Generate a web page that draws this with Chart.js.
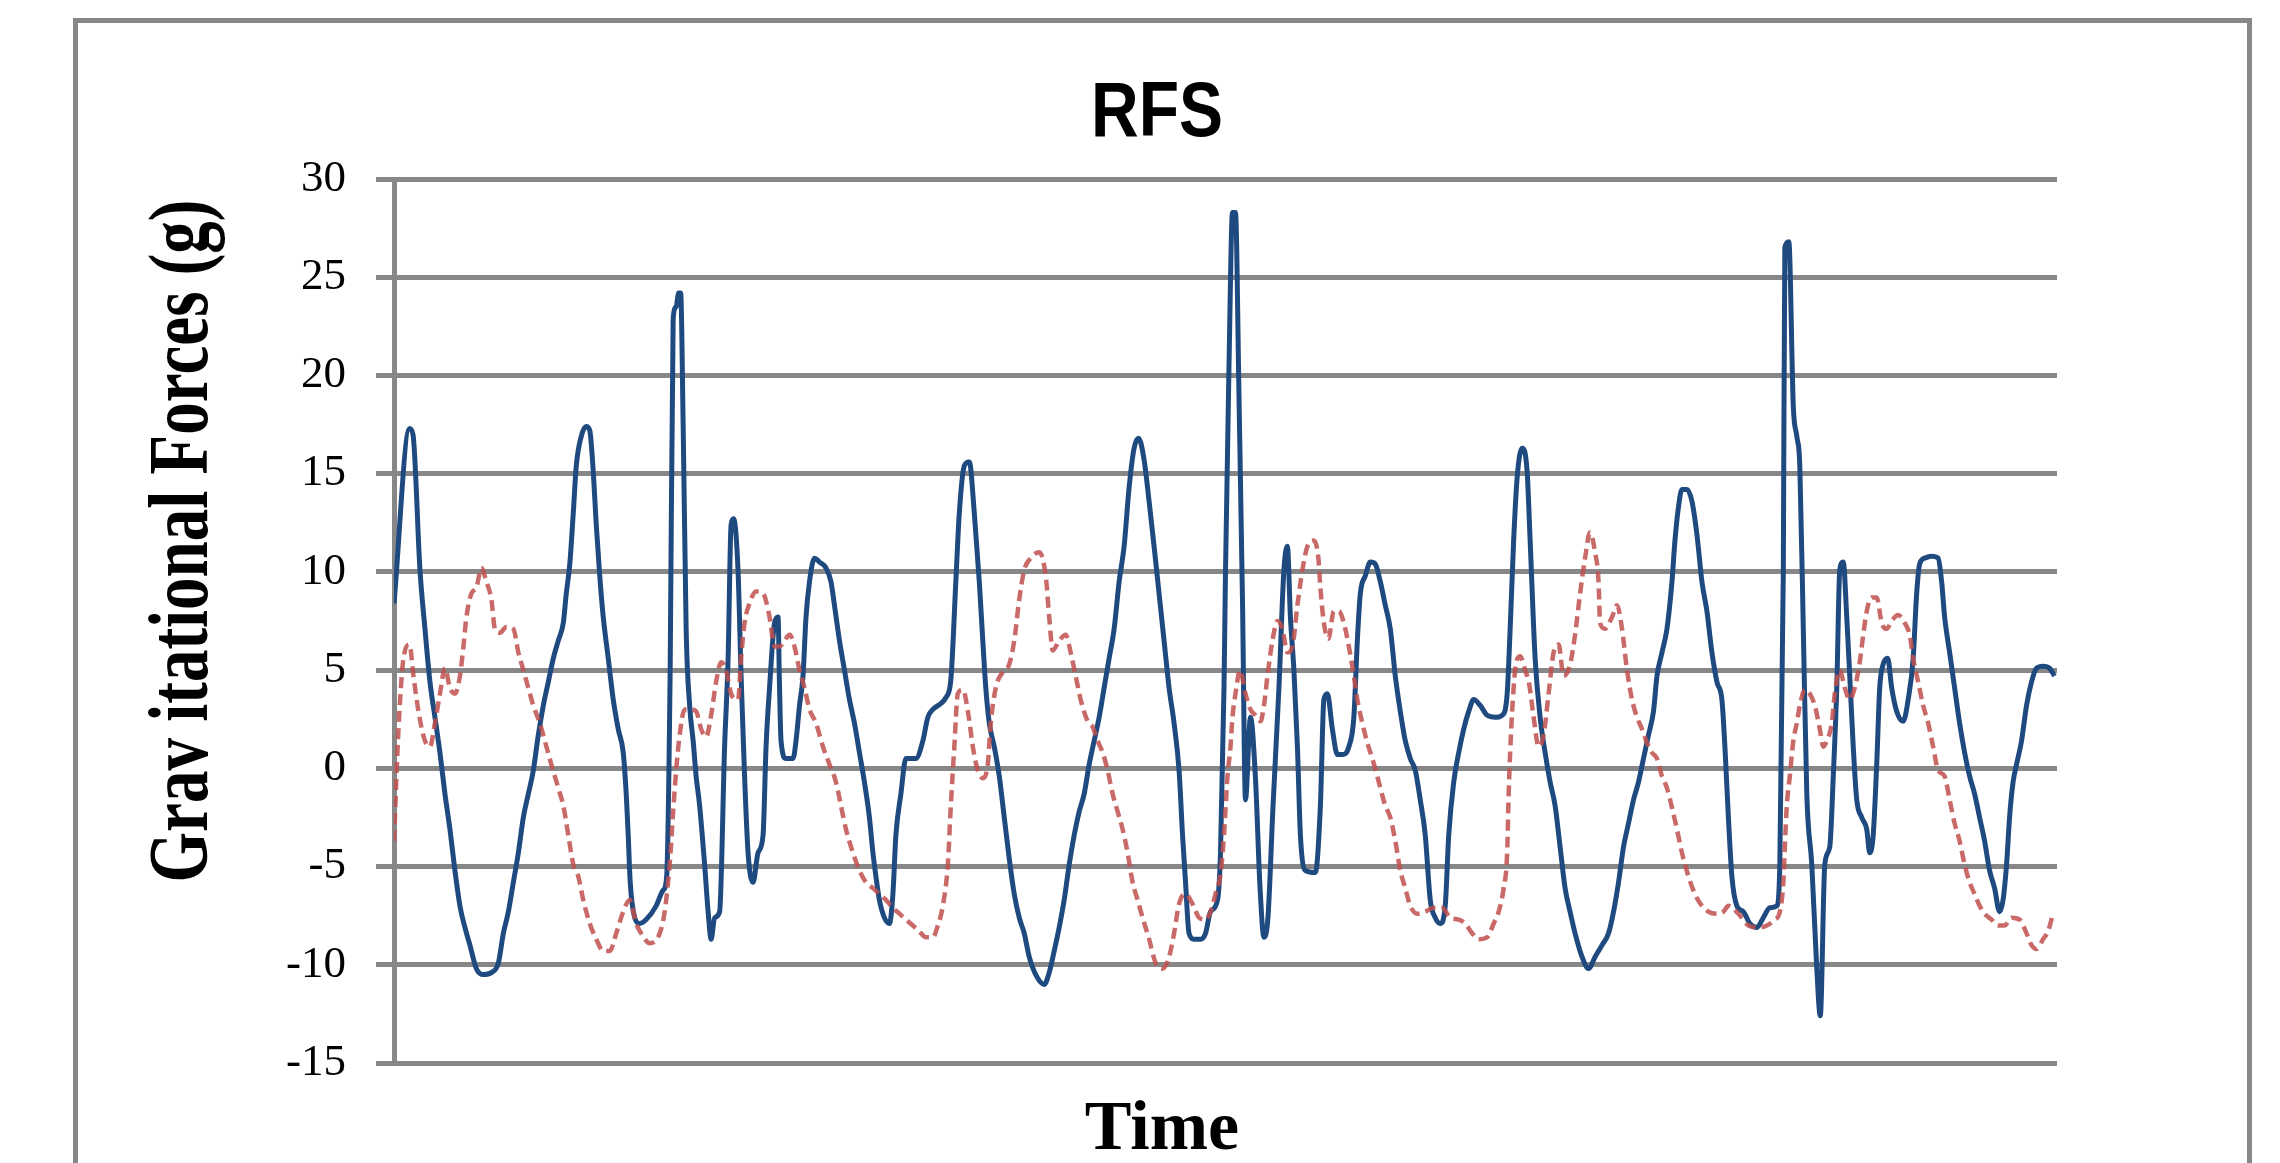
<!DOCTYPE html>
<html>
<head>
<meta charset="utf-8">
<title>RFS</title>
<script src="https://cdn.jsdelivr.net/npm/chart.js@4.4.1/dist/chart.umd.min.js"></script>
<style>
  html, body { margin:0; padding:0; background:#fff; overflow:hidden; }
  #frame {
    position:absolute; left:73px; top:18px; width:2179px; height:1300px;
    border:5px solid #888; box-sizing:border-box;
  }
  #rfsChart { position:absolute; left:0; top:0; }
</style>
</head>
<body>
<div id="frame"></div>
<canvas id="rfsChart" width="2280" height="1163"></canvas>
<script>
/* ── Chart texts ─────────────────────────────── */
const chartTitle = 'RFS';
const xTitle = 'Time';
const yTitle = 'Grav itational Forces (g)';

/* ── Y axis ──────────────────────────────────── */
const yMin = -15, yMax = 30, yStep = 5;
const tMin = 0, tMax = 333;

/* ── Series 1 (solid blue): time samples / g ─── */
const blueT = [0,3.1,3.8,5.2,6.2,7.2,8.2,9.2,10.2,11.2,12.2,13.2,14.2,15.2,16.5,17.9,19.5,20.9,21.9,22.9,
  23.9,24.9,25.9,26.9,27.9,28.9,29.9,30.9,31.9,32.9,33.9,34.5,35.2,35.9,36.5,37.5,38.5,39.2,39.9,40.5,
  41.2,41.9,42.9,43.9,44.9,45.9,46.5,46.9,47.3,48.2,49.2,50.5,52.5,53.9,54.6,55.3,55.9,56.5,57.0,57.4,
  57.9,58.5,59.2,59.9,60.5,61.2,62.2,62.9,63.5,64.2,65.2,66.2,66.9,67.5,68.0,68.9,69.5,70.2,70.9,71.9,
  72.9,73.9,74.5,75.2,76.2,76.9,77.2,77.5,78.5,79.9,80.5,81.2,81.9,82.5,83.2,84.2,85.2,86.5,87.5,88.2,
  89.2,90.2,91.2,92.2,93.2,94.2,95.2,95.9,96.5,97.2,98.2,99.2,99.9,100.5,101.5,102.5,104.5,105.9,106.9,107.9,
  109.5,110.5,111.5,112.5,113.2,114.2,115.2,116.2,117.2,117.9,118.5,119.2,120.2,121.2,122.2,123.2,124.2,125.2,126.2,127.2,
  128.5,130.2,131.2,132.2,133.2,134.2,135.2,136.2,137.2,138.2,139.2,140.2,141.2,142.2,143.2,144.2,145.2,146.2,147.2,148.2,
  149.1,150.2,151.2,152.2,153.2,154.2,155.2,156.2,157.2,157.9,158.5,159.2,160.2,161.5,162.5,163.5,164.9,165.5,166.2,166.5,
  167.2,167.9,168.5,169.2,169.9,170.5,171.5,172.5,173.4,174.2,175.0,176.0,177.2,178.2,178.9,179.5,180.2,180.9,181.5,182.5,
  184.5,185.5,186.2,186.9,187.9,188.9,189.9,191.2,192.2,192.9,193.5,194.5,195.5,196.5,197.5,198.5,199.5,200.5,201.5,202.5,
  203.5,204.5,205.5,206.5,207.5,208.5,209.5,210.5,211.2,212.2,213.2,214.2,215.2,216.2,217.5,218.9,220.5,221.9,222.9,223.5,
  224.2,224.9,225.9,226.9,227.5,228.5,229.5,230.5,231.5,232.5,233.5,234.5,235.5,236.5,237.9,239.2,240.5,241.9,243.2,244.2,
  245.2,246.2,247.2,248.2,249.2,250.2,251.2,252.2,252.9,253.9,254.9,255.9,256.5,257.2,257.9,258.9,259.9,260.9,261.9,262.9,
  263.9,264.9,265.9,266.5,267.2,267.9,268.9,270.2,271.5,272.9,274.2,275.5,276.9,277.5,278.2,278.5,279.3,280.2,280.9,281.5,
  282.2,282.9,283.9,284.9,285.6,286.5,287.5,288.2,288.9,289.5,290.2,290.9,291.5,292.2,292.9,293.9,294.9,295.5,296.2,296.9,
  297.5,298.2,299.1,299.9,300.9,302.2,303.2,304.2,304.9,305.5,306.5,307.9,309.2,309.9,310.5,311.5,312.5,313.5,314.5,315.5,
  316.5,317.5,318.5,319.5,320.5,321.5,322.2,322.9,323.5,324.2,324.9,325.9,326.9,327.9,328.9,330.2,331.5,332.5];
const blueG = [8.4,17.3,17.0,10.1,7.1,4.4,2.6,0.8,-1.3,-3.1,-5.2,-7.0,-8.1,-9.0,-10.2,-10.5,-10.4,-9.9,-8.4,-7.3,
  -5.8,-4.3,-2.5,-1.3,-0.1,1.7,3.2,4.4,5.6,6.5,7.4,8.9,10.4,13.0,15.4,16.9,17.4,17.2,15.1,12.4,
  9.8,7.7,5.6,3.5,2.0,0.8,-1.3,-3.4,-5.8,-7.6,-7.9,-7.7,-7.0,-6.2,-5.5,5.0,22.9,23.5,24.2,24.2,
  17.5,7.1,3.2,1.4,-0.4,-1.9,-4.9,-7.3,-8.7,-7.6,-7.3,1.1,5.6,12.4,12.7,10.0,4.7,-0.4,-4.3,-5.8,
  -4.3,-3.4,1.1,4.1,7.4,7.7,4.1,1.4,0.5,0.5,1.4,3.2,4.7,7.7,9.5,10.7,10.5,10.2,9.5,8.3,
  6.5,5.0,3.5,2.3,0.8,-0.7,-2.5,-4.3,-5.5,-6.7,-7.6,-7.9,-6.4,-3.4,-1.3,0.5,0.5,1.4,2.6,3.0,
  3.3,3.6,4.5,9.5,13.0,15.4,15.6,13.0,9.5,6.5,4.1,2.3,1.1,-0.4,-2.5,-4.6,-6.4,-7.6,-8.4,-9.6,
  -10.5,-11.0,-10.4,-9.3,-8.1,-6.7,-4.9,-3.4,-2.2,-1.3,0.2,1.4,2.6,4.1,5.6,7.1,9.5,11.3,14.3,16.3,
  16.8,15.7,13.6,11.3,8.9,6.5,4.1,2.3,-0.1,-3.4,-5.8,-8.4,-8.7,-8.7,-8.4,-7.3,-6.7,-4.3,4.1,10.0,
  20.5,28.3,28.3,19.0,8.6,-1.6,2.6,-0.5,-6.0,-8.6,-7.6,-2.0,4.1,10.1,11.3,7.7,5.0,1.1,-3.4,-5.2,
  -5.3,-1.9,3.5,3.8,2.0,0.7,0.7,1.1,2.6,6.5,8.9,9.8,10.5,10.4,9.5,8.3,7.1,4.7,2.9,1.4,
  0.5,-0.1,-1.6,-3.4,-6.7,-7.6,-7.9,-7.0,-3.4,-0.7,0.8,2.0,2.9,3.5,3.2,2.7,2.6,2.7,3.8,7.1,
  11.6,14.8,16.3,15.1,11.6,5.6,2.6,0.8,-0.7,-1.9,-4.0,-6.1,-7.3,-8.4,-9.6,-10.2,-9.6,-9.0,-8.4,-7.3,
  -5.8,-4.0,-2.8,-1.6,-0.7,0.5,1.7,2.9,4.7,5.9,7.1,9.5,11.6,13.3,14.2,14.2,13.6,11.9,9.5,8.0,
  5.9,4.4,3.5,1.1,-2.5,-5.5,-7.0,-7.3,-7.9,-8.1,-7.6,-7.1,-7.0,-4.9,10.1,26.5,26.8,18.4,16.9,15.4,
  7.1,-1.3,-4.9,-10.2,-12.6,-4.9,-4.0,-0.4,4.1,10.1,10.5,7.7,4.7,1.1,-1.6,-2.5,-3.1,-4.3,-3.4,0.2,
  4.1,5.3,5.6,4.1,2.9,2.4,3.5,5.6,8.9,10.4,10.7,10.8,10.7,9.5,7.7,5.9,4.1,2.3,0.8,-0.4,
  -1.3,-2.5,-3.7,-5.2,-6.1,-7.3,-6.7,-4.9,-2.5,-0.7,0.2,1.4,3.2,4.4,5.1,5.2,5.1,4.7];

/* ── Series 2 (dashed red): time samples / g ─── */
const redT = [0,0.9,1.9,3.1,3.9,4.9,6.2,7.2,8.2,9.2,10.2,11.2,12.2,13.2,13.9,14.5,15.5,16.5,17.5,18.5,
  19.5,20.2,21.2,22.5,23.9,24.9,25.9,26.9,27.9,29.2,30.2,31.5,32.9,33.9,34.9,35.9,36.9,37.9,39.2,40.5,
  41.9,43.2,44.5,45.9,47.2,48.5,49.5,51.2,53.2,54.2,55.2,55.9,56.5,57.2,58.2,59.2,60.5,61.5,62.5,63.5,
  64.5,65.5,66.5,67.5,68.9,69.5,70.2,71.2,72.5,73.9,75.2,76.2,77.2,78.2,79.2,80.2,81.2,82.2,83.2,84.5,
  85.9,87.2,88.5,89.5,90.5,91.9,93.2,94.5,95.9,97.2,98.5,99.9,101.2,102.5,103.9,105.2,106.5,107.9,108.9,109.9,
  110.9,111.5,112.2,112.9,113.9,115.1,115.9,116.9,117.9,118.9,119.5,120.5,121.9,123.2,124.2,125.2,126.2,127.5,129.2,130.5,
  131.2,131.9,133.2,134.5,135.5,136.5,137.5,138.9,139.9,140.9,141.9,142.9,143.9,144.9,145.9,146.9,147.9,148.9,149.9,151.2,
  152.5,153.9,155.2,156.2,157.2,158.5,159.9,161.2,162.5,163.5,164.5,165.5,166.2,166.9,167.5,167.9,168.5,169.4,170.5,171.5,
  172.5,173.5,174.2,174.9,175.9,176.9,177.9,178.9,179.9,180.9,181.9,182.9,184.2,185.1,185.5,186.2,187.1,188.2,189.2,190.2,
  191.2,192.2,192.9,193.9,194.9,195.9,197.2,198.5,199.5,200.5,201.5,202.5,203.5,204.9,206.5,208.2,209.9,211.5,213.2,214.5,
  215.9,217.2,218.9,220.2,221.2,222.2,222.9,223.2,223.5,223.9,224.5,225.5,226.5,227.3,228.2,229.2,230.2,231.2,232.2,233.2,
  234.2,235.5,236.5,237.5,238.5,239.5,240.5,241.2,241.5,242.5,243.9,244.9,245.9,246.9,247.9,248.9,249.9,250.9,251.9,252.9,
  253.9,254.9,255.9,256.9,257.9,259.2,260.5,261.9,263.2,264.9,266.2,267.2,269.2,271.2,273.2,274.9,276.5,277.5,278.2,278.5,
  278.9,279.5,280.2,280.9,281.5,282.5,283.5,284.5,285.5,286.2,286.9,287.9,288.5,289.5,290.5,291.5,292.5,293.5,294.2,294.9,
  295.9,296.9,297.9,298.9,299.9,301.2,302.5,303.5,304.2,305.2,306.2,307.2,308.2,309.2,310.5,311.5,312.5,313.5,314.5,315.5,
  316.5,317.5,318.5,319.9,321.2,322.5,323.9,325.5,326.9,327.9,328.9,330.2,331.2,332.2];
const redG = [-3.7,2.0,5.6,6.3,4.7,2.9,1.4,1.1,2.3,3.8,5.1,4.1,3.8,4.7,6.2,7.7,8.9,9.2,10.2,9.5,
  8.6,7.1,6.9,7.2,7.1,5.9,5.0,4.1,3.2,2.3,1.4,0.2,-1.0,-1.9,-3.4,-4.9,-5.5,-6.7,-7.9,-8.7,
  -9.3,-9.3,-8.4,-7.3,-6.7,-7.9,-8.4,-8.9,-8.4,-7.3,-4.9,-2.2,-0.1,1.7,3.0,3.0,2.9,2.0,1.6,2.7,
  4.4,5.4,5.0,3.8,3.5,5.6,7.4,8.4,9.0,8.9,7.7,6.2,6.2,6.5,6.8,6.2,5.0,4.1,3.0,2.3,
  1.1,0.2,-0.7,-1.9,-3.1,-4.3,-5.2,-5.8,-6.1,-6.4,-6.7,-7.1,-7.4,-7.7,-8.0,-8.3,-8.6,-8.6,-8.0,-7.0,
  -4.9,-1.9,1.1,3.8,4.0,2.6,1.1,-0.1,-0.5,0.2,2.3,4.1,4.9,5.3,6.5,8.6,10.1,10.7,11.0,9.8,
  7.7,6.0,6.5,6.8,5.9,4.7,3.5,2.4,2.1,1.4,0.8,-0.1,-1.3,-2.2,-3.1,-4.3,-5.8,-6.7,-7.6,-8.7,
  -9.9,-10.2,-9.6,-8.4,-6.9,-6.4,-6.9,-7.6,-7.7,-7.3,-6.4,-5.4,-3.4,-0.4,1.1,2.6,3.8,5.0,3.8,3.0,
  2.7,2.4,3.2,4.7,6.5,7.5,7.1,5.9,6.2,8.3,10.1,11.3,11.6,10.7,9.2,7.4,6.6,8.0,8.0,7.4,
  6.2,4.7,3.5,2.3,1.3,0.5,-0.7,-1.9,-2.5,-3.7,-5.2,-6.1,-7.0,-7.4,-7.3,-7.1,-7.1,-7.6,-7.7,-7.9,
  -8.4,-8.7,-8.6,-7.9,-7.3,-6.1,-4.3,-1.3,0.8,2.9,5.0,5.7,5.0,4.3,2.6,1.1,1.7,3.8,5.9,6.3,
  4.7,5.3,6.8,8.9,10.7,12.0,11.0,9.5,7.4,7.1,7.7,8.3,7.1,5.0,3.5,2.6,2.0,1.3,0.8,0.5,
  -0.4,-1.0,-2.0,-3.1,-4.3,-5.5,-6.4,-7.0,-7.3,-7.4,-7.3,-7.0,-7.4,-8.0,-8.1,-8.0,-7.7,-7.3,-5.8,-4.0,
  -1.9,-0.4,1.4,2.3,3.2,4.0,3.8,3.2,2.0,1.1,1.4,2.3,3.8,5.0,4.1,3.5,4.1,5.4,6.8,8.0,
  8.7,8.7,7.4,7.1,7.5,7.8,7.4,6.8,5.6,4.4,3.2,2.3,1.1,-0.1,-0.4,-1.6,-2.8,-3.7,-4.9,-5.8,
  -6.4,-7.0,-7.4,-7.7,-8.0,-8.0,-7.6,-7.7,-8.4,-9.0,-9.2,-8.7,-8.3,-7.4];

const toPoints = (ts, gs) => ts.map((t, i) => ({ x: t, y: gs[i] }));

/* ── Title / axis titles drawn with a slight vertical stretch,
      like the pixel-scaled original ───────────────────────── */
const textPlugin = {
  id: 'rfsTexts',
  afterDraw(chart) {
    const ctx = chart.ctx;
    ctx.save();
    ctx.fillStyle = '#000';
    ctx.textAlign = 'center';
    ctx.textBaseline = 'alphabetic';

    ctx.save();
    ctx.translate(1157, 136);
    ctx.scale(1, 1.19);
    ctx.font = 'bold 66px "Liberation Sans", Arial, sans-serif';
    ctx.fillText(chartTitle, 0, 0);
    ctx.restore();

    ctx.save();
    ctx.font = 'bold 70px "Liberation Serif", "Times New Roman", serif';
    ctx.fillText(xTitle, 1162, 1149);
    ctx.restore();

    ctx.save();
    ctx.translate(207, 541);
    ctx.rotate(-Math.PI / 2);
    ctx.scale(1, 1.3);
    ctx.font = 'bold 65px "Liberation Serif", "Times New Roman", serif';
    ctx.fillText(yTitle, 0, 0);
    ctx.restore();

    ctx.restore();
  }
};

new Chart(document.getElementById('rfsChart'), {
  type: 'line',
  data: {
    datasets: [
      {
        label: 'Series 2',
        data: toPoints(redT, redG),
        borderColor: 'rgba(192,80,77,0.85)',
        borderWidth: 4.5,
        borderDash: [11, 6],
        pointRadius: 0,
        cubicInterpolationMode: 'monotone',
        fill: false
      },
      {
        label: 'Series 1',
        data: toPoints(blueT, blueG),
        borderColor: '#1F4A80',
        borderWidth: 5,
        pointRadius: 0,
        cubicInterpolationMode: 'monotone',
        fill: false
      }
    ]
  },
  options: {
    responsive: false,
    animation: false,
    devicePixelRatio: 1,
    layout: { padding: { left: 0, right: 223, top: 179, bottom: 100 } },
    plugins: {
      legend: { display: false },
      title: { display: false },
      tooltip: { enabled: false }
    },
    scales: {
      x: { type: 'linear', display: false, min: tMin, max: tMax },
      y: {
        min: yMin, max: yMax,
        ticks: {
          stepSize: yStep, padding: 30, color: '#000',
          font: { family: '"Liberation Serif", "Times New Roman", serif', size: 45 }
        },
        grid: { color: '#878787', lineWidth: 5, tickLength: 18, drawTicks: true },
        border: { display: true, color: '#878787', width: 5 },
        afterFit(scale) { scale.width = 394; }
      }
    }
  },
  plugins: [textPlugin]
});
</script>
</body>
</html>
